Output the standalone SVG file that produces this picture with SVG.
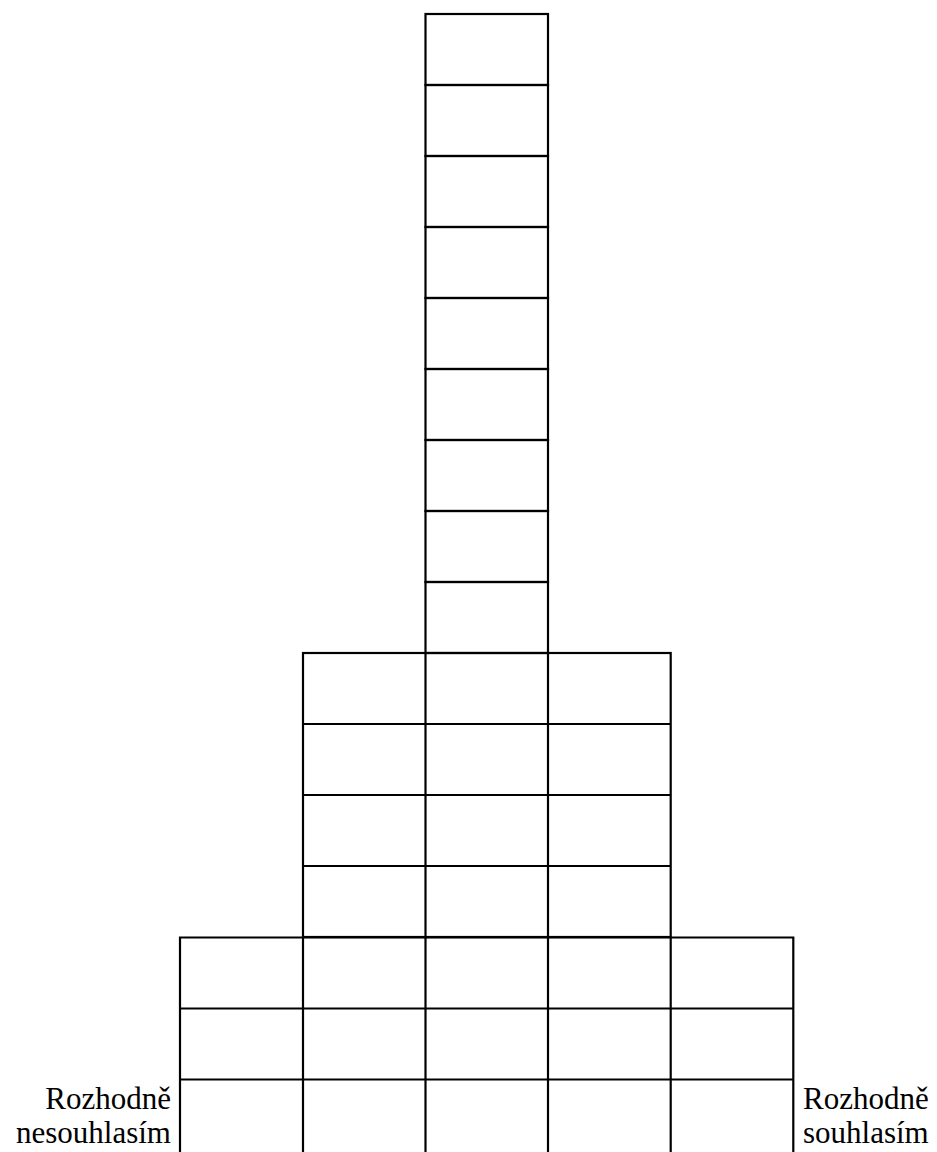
<svg xmlns="http://www.w3.org/2000/svg" width="937" height="1152" viewBox="0 0 937 1152">
<style>
.c{fill:none;stroke:#000;stroke-width:2.2}
.t{font-family:'Liberation Serif','DejaVu Serif',serif;font-size:31px;fill:#000}
</style>
<rect width="937" height="1152" fill="#fff"/>
<g id="column-center">
<rect class="c" x="425.5" y="14" width="122.5" height="71"/>
<rect class="c" x="425.5" y="85" width="122.5" height="71"/>
<rect class="c" x="425.5" y="156" width="122.5" height="71"/>
<rect class="c" x="425.5" y="227" width="122.5" height="71"/>
<rect class="c" x="425.5" y="298" width="122.5" height="71"/>
<rect class="c" x="425.5" y="369" width="122.5" height="71"/>
<rect class="c" x="425.5" y="440" width="122.5" height="71"/>
<rect class="c" x="425.5" y="511" width="122.5" height="71"/>
<rect class="c" x="425.5" y="582" width="122.5" height="71"/>
</g>
<g id="middle-block">
<rect class="c" x="303" y="653" width="367.7" height="284"/>
<line class="c" x1="303" y1="724" x2="670.7" y2="724"/>
<line class="c" x1="303" y1="795" x2="670.7" y2="795"/>
<line class="c" x1="303" y1="866" x2="670.7" y2="866"/>
<line class="c" x1="425.5" y1="653" x2="425.5" y2="937"/>
<line class="c" x1="548" y1="653" x2="548" y2="937"/>
</g>
<g id="bottom-block">
<path class="c" d="M180,1153 V937.5 H793.3 V1153"/>
<line class="c" x1="180" y1="1008.5" x2="793.3" y2="1008.5"/>
<line class="c" x1="180" y1="1079.5" x2="793.3" y2="1079.5"/>
<line class="c" x1="303" y1="937" x2="303" y2="1153"/>
<line class="c" x1="425.5" y1="937" x2="425.5" y2="1153"/>
<line class="c" x1="548" y1="937" x2="548" y2="1153"/>
<line class="c" x1="670.7" y1="937" x2="670.7" y2="1153"/>
</g>
<g id="label-left">
<text class="t" x="171" y="1109" text-anchor="end">Rozhodně</text>
<text class="t" x="171" y="1143" text-anchor="end">nesouhlasím</text>
</g>
<g id="label-right">
<text class="t" x="803" y="1109">Rozhodně</text>
<text class="t" x="803" y="1143">souhlasím</text>
</g>
</svg>
